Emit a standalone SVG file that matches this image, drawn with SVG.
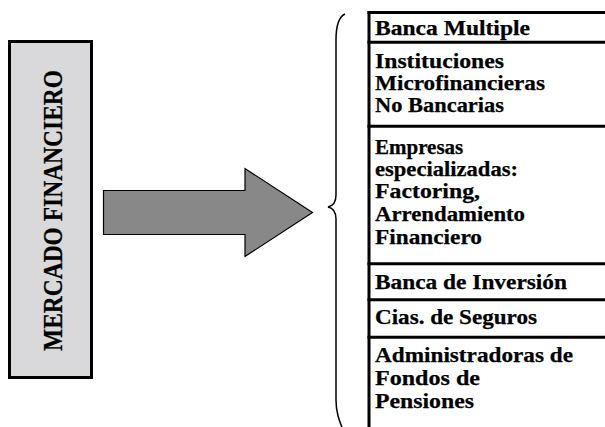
<svg xmlns="http://www.w3.org/2000/svg" width="605" height="427" viewBox="0 0 605 427">
<style>
.t{font-family:"Liberation Serif","Times New Roman",serif;font-weight:bold;font-size:21px;fill:#000;stroke:#000;stroke-width:0.25}
.ln{stroke:#000;stroke-width:3;fill:none}
</style>
<rect width="605" height="427" fill="#fff"/>
<g id="mercado">
<rect x="9.5" y="41.5" width="82" height="336" fill="#d9d9db" stroke="#000" stroke-width="3"/>
<text class="t" transform="translate(62,210.5) rotate(-90)" text-anchor="middle" textLength="281" lengthAdjust="spacingAndGlyphs" style="font-size:27px">MERCADO FINANCIERO</text>
</g>
<g id="connectors">
<path id="arrow" d="M103.5,190.5 L245,190.5 L245,168.5 L312.5,212.5 L245,256.5 L245,234.5 L103.5,234.5 Z" fill="#888889" stroke="#000" stroke-width="1.2"/>
<path id="brace" d="M345,14 C338.5,17 336,25 336,40 L336,195 C336,203 332.5,206 328,207 C332.5,208 336,211 336,219 L336,400 C336,412 339,420 343,430" fill="none" stroke="#000" stroke-width="1.5"/>
</g>
<g id="table">
<line class="ln" x1="369" y1="11" x2="369" y2="427"/>
<line class="ln" x1="367.5" y1="12.5" x2="605" y2="12.5"/>
<line class="ln" x1="367.5" y1="42.3" x2="605" y2="42.3"/>
<line class="ln" x1="367.5" y1="126.3" x2="605" y2="126.3"/>
<line class="ln" x1="367.5" y1="263.7" x2="605" y2="263.7"/>
<line class="ln" x1="367.5" y1="299.7" x2="605" y2="299.7"/>
<line class="ln" x1="367.5" y1="337.3" x2="605" y2="337.3"/>
</g>
<g id="banca-multiple"><text class="t" x="375" y="35" textLength="155" lengthAdjust="spacingAndGlyphs">Banca Multiple</text></g>
<g id="instituciones">
<text class="t" x="375" y="68" textLength="129" lengthAdjust="spacingAndGlyphs">Instituciones</text>
<text class="t" x="375" y="90" textLength="170" lengthAdjust="spacingAndGlyphs">Microfinancieras</text>
<text class="t" x="375" y="112" textLength="129" lengthAdjust="spacingAndGlyphs">No Bancarias</text>
</g>
<g id="empresas">
<text class="t" x="375" y="154">Empresas</text>
<text class="t" x="375" y="176" textLength="143" lengthAdjust="spacingAndGlyphs">especializadas:</text>
<text class="t" x="375" y="198" textLength="105" lengthAdjust="spacingAndGlyphs">Factoring,</text>
<text class="t" x="375" y="221" textLength="150" lengthAdjust="spacingAndGlyphs">Arrendamiento</text>
<text class="t" x="375" y="244" textLength="107" lengthAdjust="spacingAndGlyphs">Financiero</text>
</g>
<g id="banca-inversion"><text class="t" x="375" y="289" textLength="192" lengthAdjust="spacingAndGlyphs">Banca de Inversión</text></g>
<g id="seguros"><text class="t" x="375" y="324" textLength="162" lengthAdjust="spacingAndGlyphs">Cias. de Seguros</text></g>
<g id="afp">
<text class="t" x="375" y="362" textLength="198" lengthAdjust="spacingAndGlyphs">Administradoras de</text>
<text class="t" x="375" y="385" textLength="105" lengthAdjust="spacingAndGlyphs">Fondos de</text>
<text class="t" x="375" y="408" textLength="99" lengthAdjust="spacingAndGlyphs">Pensiones</text>
</g>
</svg>
